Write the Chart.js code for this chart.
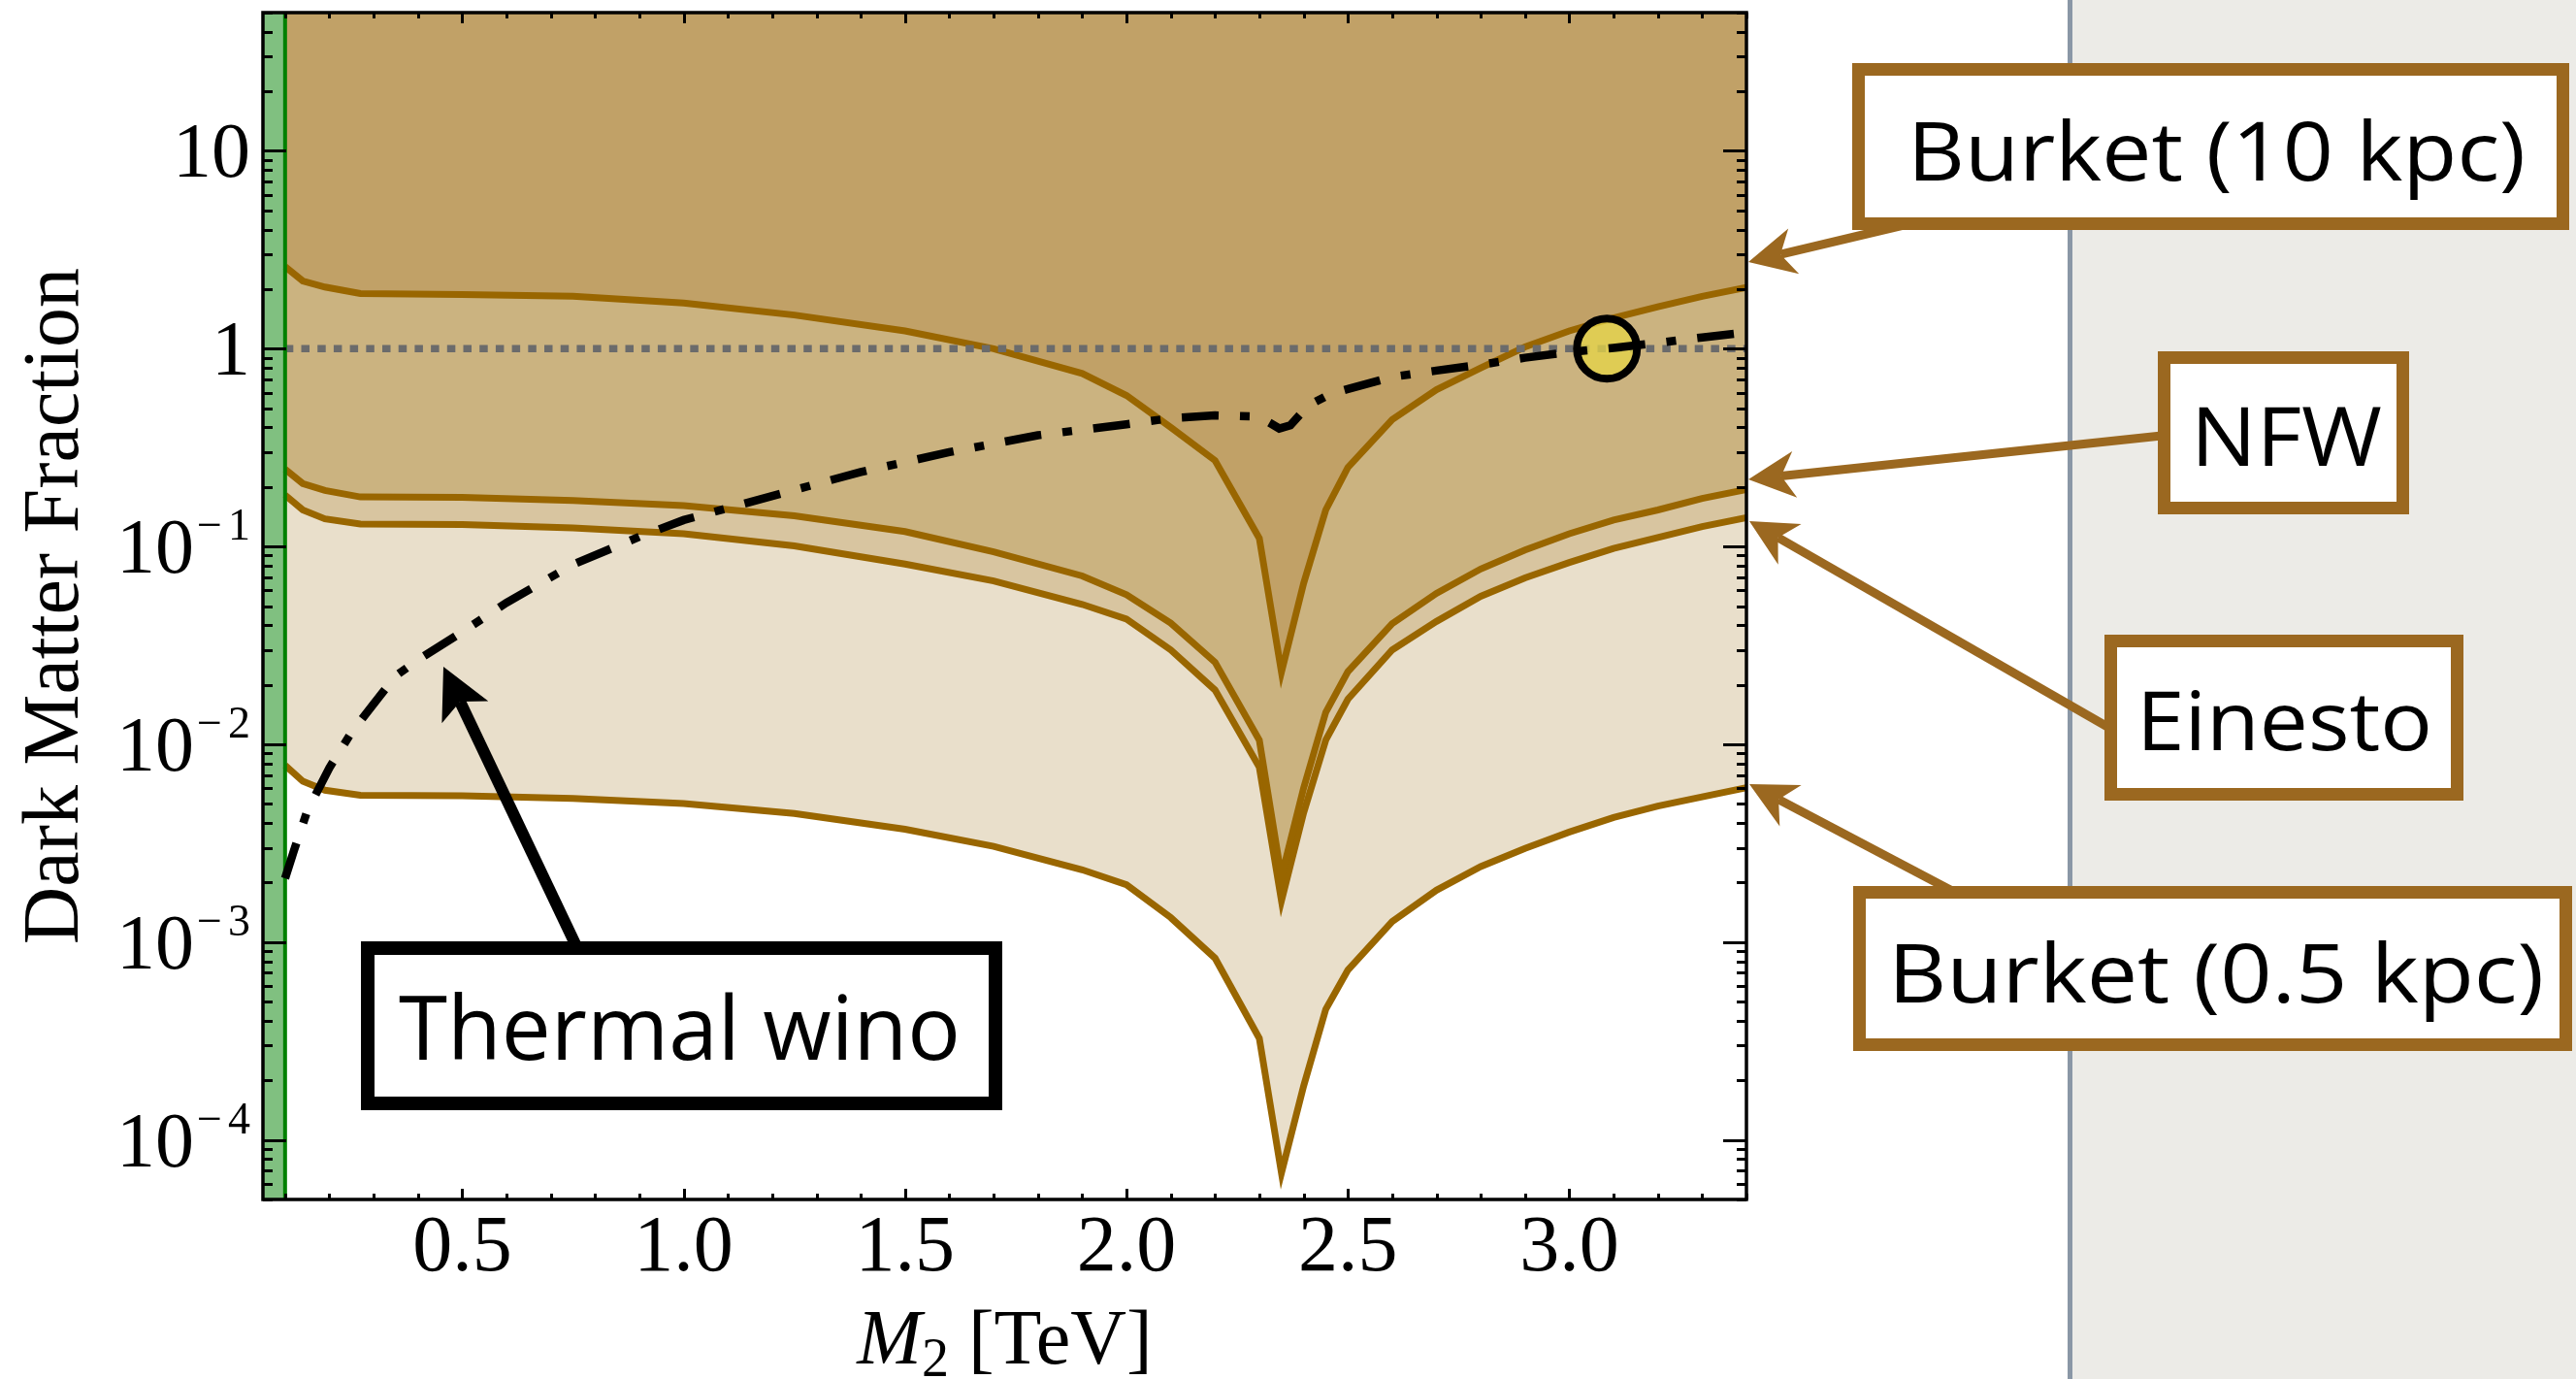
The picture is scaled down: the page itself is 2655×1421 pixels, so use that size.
<!DOCTYPE html>
<html>
<head>
<meta charset="utf-8">
<script src="https://cdn.jsdelivr.net/npm/chart.js@4.4.1/dist/chart.umd.min.js"></script>
<style>
  html, body { margin: 0; padding: 0; background: #fff; }
  canvas { display: block; }
</style>
</head>
<body>
<canvas id="dm-fraction-chart" width="2655" height="1421"></canvas>
<script>
// M2 grid (TeV) shared by the four halo-profile curves
const massGrid = [0.1, 0.14, 0.19, 0.27, 0.5, 0.75, 1.0, 1.25, 1.5, 1.7, 1.9, 2.0, 2.1, 2.2, 2.3, 2.35,
  2.4, 2.45, 2.5, 2.6, 2.7, 2.8, 2.9, 3.0, 3.1, 3.2, 3.3, 3.4];

const burket10 = [2.6, 2.2, 2.05, 1.9, 1.88, 1.84, 1.70, 1.48, 1.23, 1.0, 0.75, 0.58, 0.40, 0.272, 0.110, 0.0232,
  0.065, 0.153, 0.251, 0.438, 0.62, 0.80, 1.02, 1.23, 1.43, 1.63, 1.84, 2.04];
const nfw = [0.246, 0.208, 0.192, 0.178, 0.177, 0.171, 0.161, 0.143, 0.119, 0.094, 0.071, 0.057, 0.041, 0.026, 0.0105, 0.00214,
  0.0060, 0.0145, 0.0233, 0.0407, 0.058, 0.077, 0.096, 0.116, 0.136, 0.153, 0.175, 0.194];
const einasto = [0.182, 0.153, 0.138, 0.130, 0.129, 0.124, 0.116, 0.1007, 0.0815, 0.067, 0.051, 0.043, 0.030, 0.0188, 0.00766, 0.00162,
  0.0045, 0.0105, 0.0169, 0.030, 0.0418, 0.056, 0.0694, 0.083, 0.0977, 0.111, 0.126, 0.14];
const burket05 = [0.00783, 0.0065, 0.00586, 0.00552, 0.0055, 0.00533, 0.00502, 0.00447, 0.00372, 0.00305, 0.00232, 0.00195, 0.00133, 0.00083, 0.000326, 0.0000681,
  0.000187, 0.000457, 0.000723, 0.00127, 0.00183, 0.00241, 0.00298, 0.0036, 0.00427, 0.00487, 0.00542, 0.00603];

// thermal wino relic fraction
const winoMass = [0.1, 0.12, 0.15, 0.2, 0.25, 0.3, 0.35, 0.4, 0.5, 0.6, 0.75, 0.9, 1.0, 1.2, 1.4, 1.6, 1.8, 2.0,
  2.1, 2.2, 2.3, 2.345, 2.37, 2.41, 2.46, 2.5, 2.6, 2.7, 2.8, 2.9, 3.0, 3.1, 3.2, 3.3, 3.4];
const winoFraction = [0.0021, 0.0029, 0.0046, 0.0076, 0.0115, 0.016, 0.0222, 0.0267, 0.037, 0.052, 0.081, 0.112, 0.136, 0.180, 0.238, 0.300, 0.365, 0.415,
  0.445, 0.460, 0.453, 0.395, 0.41, 0.515, 0.59, 0.625, 0.72, 0.775, 0.83, 0.90, 0.96, 1.01, 1.07, 1.14, 1.21];

const lepBound = 0.1;          // M2 excluded below this (green band)
const thermalPoint = { x: 3.085, y: 1 };
const xMin = 0.05, xMax = 3.4;
const yMin = 5e-5, yMax = 50;

const xTickValues = [0.5, 1.0, 1.5, 2.0, 2.5, 3.0];
const xTickLabels = ['0.5', '1.0', '1.5', '2.0', '2.5', '3.0'];
const yTickPowers = [1, 0, -1, -2, -3, -4];

const SERIF = "'Liberation Serif', 'Times New Roman', serif";
const SANS = "'Open Sans', 'Noto Sans', sans-serif";
const CURVE = '#996600';
const BROWN = '#9b6820';

const toPoints = (xs, ys) => xs.map((x, i) => ({ x: x, y: ys[i] }));

function curve(label, values, fill, color) {
  return {
    label: label,
    data: toPoints(massGrid, values),
    borderColor: CURVE,
    borderWidth: 7,
    backgroundColor: color,
    fill: fill,
    pointRadius: 0,
    order: 10
  };
}

function drawArrow(ctx, x0, y0, x1, y1, color, width, headLen, headHalf, notch) {
  const ang = Math.atan2(y1 - y0, x1 - x0);
  const c = Math.cos(ang), s = Math.sin(ang);
  const bx = x1 - c * notch, by = y1 - s * notch;
  ctx.strokeStyle = color;
  ctx.lineWidth = width;
  ctx.beginPath();
  ctx.moveTo(x0, y0);
  ctx.lineTo(bx, by);
  ctx.stroke();
  const hx = x1 - c * headLen, hy = y1 - s * headLen;
  ctx.fillStyle = color;
  ctx.beginPath();
  ctx.moveTo(x1, y1);
  ctx.lineTo(hx - s * headHalf, hy + c * headHalf);
  ctx.lineTo(bx, by);
  ctx.lineTo(hx + s * headHalf, hy - c * headHalf);
  ctx.closePath();
  ctx.fill();
}

function drawBox(ctx, b) {
  const h = b.border / 2;
  ctx.fillStyle = '#fff';
  ctx.fillRect(b.x0, b.y0, b.x1 - b.x0, b.y1 - b.y0);
  ctx.strokeStyle = b.color;
  ctx.lineWidth = b.border;
  ctx.strokeRect(b.x0 + h, b.y0 + h, b.x1 - b.x0 - b.border, b.y1 - b.y0 - b.border);
  ctx.font = b.size + 'px ' + SANS;
  ctx.textAlign = 'left';
  ctx.textBaseline = 'alphabetic';
  const w = ctx.measureText(b.text).width;
  ctx.save();
  ctx.translate(b.tx0, b.base);
  ctx.scale((b.tx1 - b.tx0) / w, 1);
  ctx.fillStyle = '#000';
  ctx.fillText(b.text, 0, 0);
  ctx.restore();
}

const calloutBoxes = [
  { text: 'Burket (10 kpc)', x0: 1909, y0: 65, x1: 2648, y1: 237, tx0: 1966, tx1: 2603, base: 186, size: 84, color: BROWN, border: 13 },
  { text: 'NFW', x0: 2224, y0: 362, x1: 2483, y1: 530, tx0: 2258, tx1: 2455, base: 480, size: 84, color: BROWN, border: 13 },
  { text: 'Einesto', x0: 2169, y0: 654, x1: 2539, y1: 825, tx0: 2202, tx1: 2507, base: 773, size: 84, color: BROWN, border: 13 },
  { text: 'Burket (0.5 kpc)', x0: 1910, y0: 913, x1: 2651, y1: 1083, tx0: 1946, tx1: 2622, base: 1033, size: 84, color: BROWN, border: 13 },
  { text: 'Thermal wino', x0: 372, y0: 970, x1: 1033, y1: 1144, tx0: 411, tx1: 990, base: 1092, size: 91, color: '#000', border: 14 }
];
const brownArrows = [
  [1962, 232, 1802, 270],
  [2228, 449, 1802, 494],
  [2174, 750, 1803, 537],
  [2012, 918, 1803, 808]
];

const pageBackground = {
  id: 'pageBackground',
  beforeDraw(chart) {
    const ctx = chart.ctx;
    ctx.save();
    ctx.fillStyle = '#fff';
    ctx.fillRect(0, 0, chart.width, chart.height);
    ctx.fillStyle = '#ecebe7';
    ctx.fillRect(2133, 0, chart.width - 2133, chart.height);
    ctx.fillStyle = '#8a97a6';
    ctx.fillRect(2131, 0, 5, chart.height);
    ctx.restore();
  }
};

const frameAndTicks = {
  id: 'frameAndTicks',
  afterDatasetsDraw(chart) {
    const { ctx, chartArea: a, scales: { x, y } } = chart;
    ctx.save();
    ctx.strokeStyle = '#000';
    ctx.lineWidth = 3;
    ctx.beginPath();
    // x ticks, bottom and top, every 0.1 TeV
    for (let i = 1; i <= 34; i++) {
      const v = i / 10;
      const px = Math.round(x.getPixelForValue(v)) + 0.5;
      const len = (i % 5 === 0) ? 11 : 6;
      ctx.moveTo(px, a.bottom); ctx.lineTo(px, a.bottom - len);
      ctx.moveTo(px, a.top); ctx.lineTo(px, a.top + len);
    }
    // y ticks, left and right
    for (let k = -5; k <= 1; k++) {
      for (let m = 1; m <= 9; m++) {
        const v = m * Math.pow(10, k);
        if (v < yMin * 0.999 || v > yMax * 1.001) continue;
        const py = Math.round(y.getPixelForValue(v)) + 0.5;
        const len = m === 1 ? 24 : 10;
        ctx.moveTo(a.left, py); ctx.lineTo(a.left + len, py);
        ctx.moveTo(a.right, py); ctx.lineTo(a.right - len, py);
      }
    }
    ctx.stroke();
    ctx.lineWidth = 3.5;
    ctx.strokeRect(a.left, a.top, a.right - a.left, a.bottom - a.top);

    // tick labels
    ctx.fillStyle = '#000';
    ctx.textBaseline = 'alphabetic';
    ctx.textAlign = 'center';
    ctx.font = '82px ' + SERIF;
    xTickValues.forEach((v, i) => {
      ctx.fillText(xTickLabels[i], x.getPixelForValue(v), 1309);
    });
    const right = 258;
    yTickPowers.forEach(p => {
      const base = y.getPixelForValue(Math.pow(10, p)) + 27;
      ctx.textAlign = 'right';
      if (p >= 0) {
        ctx.font = '80px ' + SERIF;
        ctx.fillText(p === 0 ? '1' : '10', right, base);
      } else {
        ctx.font = '46px ' + SERIF;
        const digit = String(-p);
        const wd = ctx.measureText(digit).width;
        ctx.fillText(digit, right, base - 34);
        const minusRight = right - wd - 6;
        const wm = ctx.measureText('\u2212').width;
        ctx.fillText('\u2212', minusRight, base - 34);
        ctx.font = '80px ' + SERIF;
        ctx.fillText('10', minusRight - wm - 3, base);
      }
    });

    // axis titles
    ctx.textAlign = 'left';
    ctx.font = 'italic 80px ' + SERIF;
    const wM = ctx.measureText('M').width;
    ctx.font = '56px ' + SERIF;
    const w2 = ctx.measureText('2').width;
    ctx.font = '80px ' + SERIF;
    const wRest = ctx.measureText(' [TeV]').width;
    let tx = (a.left + a.right) / 2 - (wM + w2 + wRest) / 2;
    ctx.font = 'italic 80px ' + SERIF;
    ctx.fillText('M', tx, 1405);
    tx += wM;
    ctx.font = '56px ' + SERIF;
    ctx.fillText('2', tx, 1418);
    tx += w2;
    ctx.font = '80px ' + SERIF;
    ctx.fillText(' [TeV]', tx, 1405);

    ctx.save();
    ctx.translate(80, (a.top + a.bottom) / 2);
    ctx.rotate(-Math.PI / 2);
    ctx.textAlign = 'center';
    ctx.font = '82px ' + SERIF;
    ctx.fillText('Dark Matter Fraction', 0, 0);
    ctx.restore();
    ctx.restore();
  }
};

const callouts = {
  id: 'callouts',
  afterDraw(chart) {
    const ctx = chart.ctx;
    ctx.save();
    brownArrows.forEach(r => drawArrow(ctx, r[0], r[1], r[2], r[3], BROWN, 9, 48, 24, 34));
    drawArrow(ctx, 594, 975, 457, 687, '#000', 12, 52, 26.5, 40);
    calloutBoxes.forEach(b => drawBox(ctx, b));
    ctx.restore();
  }
};

new Chart(document.getElementById('dm-fraction-chart').getContext('2d'), {
  type: 'line',
  data: {
    datasets: [
      curve('Burket (10 kpc)', burket10, 'end', '#c1a167'),
      curve('NFW', nfw, '-1', '#cbb380'),
      curve('Einesto', einasto, '-1', '#d8c5a0'),
      curve('Burket (0.5 kpc)', burket05, '-1', '#e9dfcb'),
      {
        label: 'excluded',
        data: [{ x: xMin, y: yMax }, { x: lepBound, y: yMax }],
        borderWidth: 0,
        backgroundColor: '#80c080',
        fill: 'start',
        pointRadius: 0,
        order: 12
      },
      {
        label: 'bound',
        data: [{ x: lepBound, y: yMin }, { x: lepBound, y: yMax }],
        borderColor: '#008000',
        borderWidth: 4,
        fill: false,
        pointRadius: 0,
        order: 4
      },
      {
        label: 'unity',
        data: [{ x: lepBound, y: 1 }, { x: xMax, y: 1 }],
        borderColor: '#6b6b6b',
        borderWidth: 7.5,
        borderDash: [8.5, 8.2],
        fill: false,
        pointRadius: 0,
        order: 5
      },
      {
        label: 'thermal point',
        data: [thermalPoint],
        showLine: false,
        pointRadius: 31,
        pointBackgroundColor: 'rgba(228, 212, 72, 0.78)',
        pointBorderColor: '#000',
        pointBorderWidth: 8,
        order: 3
      },
      {
        label: 'Thermal wino',
        data: toPoints(winoMass, winoFraction),
        borderColor: '#000',
        borderWidth: 8.5,
        borderDash: [38, 22, 10, 22],
        fill: false,
        pointRadius: 0,
        order: 1
      }
    ]
  },
  options: {
    responsive: false,
    animation: false,
    layout: { autoPadding: false, padding: { left: 271, right: 855, top: 13, bottom: 185 } },
    elements: { line: { tension: 0 } },
    scales: {
      x: { type: 'linear', min: xMin, max: xMax, display: false },
      y: { type: 'logarithmic', min: yMin, max: yMax, display: false }
    },
    plugins: {
      legend: { display: false },
      tooltip: { enabled: false },
      filler: { drawTime: 'beforeDatasetsDraw', propagate: false }
    }
  },
  plugins: [pageBackground, frameAndTicks, callouts]
});
</script>
</body>
</html>
